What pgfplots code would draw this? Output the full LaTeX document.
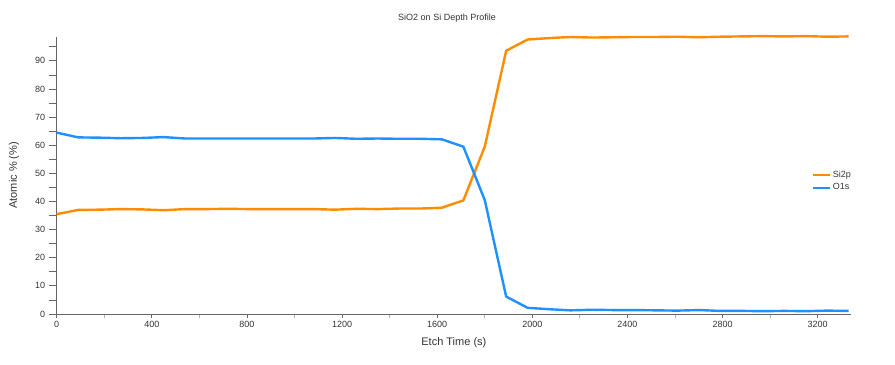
\documentclass[border=0pt]{standalone}
\usepackage{fontspec}
\setmainfont{Liberation Sans}
\usepackage{pgfplots}
\pgfplotsset{compat=1.18}
\definecolor{siorange}{HTML}{FF8C00}
\definecolor{oblue}{HTML}{1E90FF}
\definecolor{axgray}{HTML}{666666}
\definecolor{txt}{HTML}{333333}
\pgfplotsset{
  commonaxis/.style={
    at={(0,0)}, anchor=south west,
    scale only axis, width=794.3bp, height=277.3bp,
    xmin=0, xmax=3340, ymin=0, ymax=98.6,
    tick align=outside,
    major tick style={axgray, line width=0.8bp},
    minor tick style={axgray, line width=0.8bp},
  }
}
\begin{document}
\begin{tikzpicture}
\path (-56.7bp,-51bp) rectangle (838.3bp,314bp);
% x ticks (short)
\begin{axis}[
  commonaxis,
  axis x line*=bottom, axis y line=none,
  axis line style={draw=none},
  xtick={0,400,...,3200},
  minor xtick={200,600,...,3000},
  xticklabels={},
  major tick length=4bp, minor tick length=4bp,
  minor x tick style={black!30},
]
\end{axis}
\begin{axis}[
  commonaxis,
  axis lines*=left,
  axis line style={axgray, line width=0.8bp, -},
  xtick={0,400,...,3200},
  x tick style={draw=none},
  ytick={0,10,...,90},
  minor ytick={5,15,...,95},
  major tick length=8bp, minor tick length=8bp,
  tick label style={font=\fontsize{9bp}{10bp}\selectfont, text=txt},
  xticklabel style={yshift=4bp},
  /pgf/number format/assume math mode=true,
  /pgf/number format/set thousands separator={},
  title={SiO2 on Si Depth Profile},
  title style={font=\fontsize{9bp}{10bp}\selectfont, text=txt, at={(axis description cs:0.4914,1.046)}, anchor=center, yshift=0pt},
  xlabel={Etch Time (s)},
  xlabel style={font=\fontsize{11bp}{12bp}\selectfont, text=txt, at={(axis description cs:0.5,-0.1046)}, anchor=center},
  ylabel={Atomic \% (\%)},
  ylabel style={font=\fontsize{11bp}{12bp}\selectfont, text=txt, at={(axis description cs:-0.0538,0.5)}, anchor=center},
  legend style={at={(0.951,0.523)}, anchor=north west, draw=none, fill=none,
    font=\fontsize{9bp}{10bp}\selectfont, text=txt, inner sep=0pt, row sep=2bp,
    nodes={inner sep=1.5bp}},
  legend cell align=left,
  legend image code/.code={\draw[#1, line width=2bp] (0bp,0bp) -- (17bp,0bp);},
  every axis plot/.append style={line width=2.4bp, line join=round},
  clip=false,
]
\addplot[siorange, mark=none] coordinates {
(0,35.5) (90,37.0) (180,37.1) (270,37.3) (360,37.2) (450,36.9) (540,37.3) (630,37.3)
(720,37.4) (810,37.3) (900,37.3) (990,37.3) (1080,37.3) (1170,37.1) (1260,37.4) (1350,37.3)
(1440,37.5) (1530,37.5) (1620,37.8) (1710,40.4) (1800,59.5) (1890,93.6) (1980,97.6) (2070,98.1)
(2160,98.5) (2250,98.3) (2340,98.4) (2430,98.5) (2520,98.5) (2610,98.6) (2700,98.4) (2790,98.6)
(2880,98.7) (2970,98.8) (3060,98.7) (3150,98.8) (3240,98.6) (3330,98.7)
};
\addlegendentry{Si2p}
\addplot[oblue, mark=none] coordinates {
(0,64.5) (90,62.8) (180,62.7) (270,62.5) (360,62.6) (450,62.9) (540,62.4) (630,62.4)
(720,62.4) (810,62.4) (900,62.4) (990,62.4) (1080,62.4) (1170,62.6) (1260,62.3) (1350,62.4)
(1440,62.3) (1530,62.3) (1620,62.1) (1710,59.5) (1800,40.5) (1890,6.2) (1980,2.2) (2070,1.7)
(2160,1.3) (2250,1.5) (2340,1.4) (2430,1.4) (2520,1.3) (2610,1.2) (2700,1.4) (2790,1.1)
(2880,1.1) (2970,1.0) (3060,1.1) (3150,1.0) (3240,1.2) (3330,1.1)
};
\addlegendentry{O1s}
\end{axis}
\end{tikzpicture}
\end{document}
